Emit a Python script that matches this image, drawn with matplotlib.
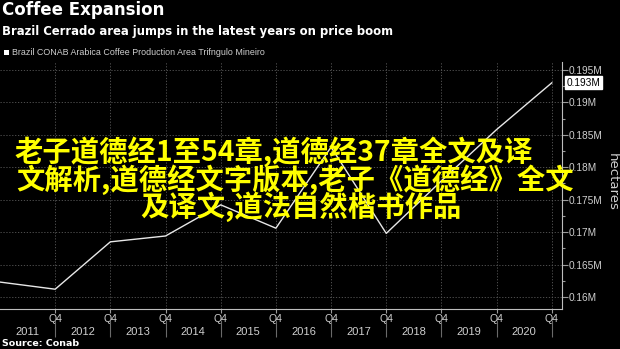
import matplotlib
matplotlib.use("Agg")
import matplotlib.pyplot as plt
import matplotlib.transforms as mtransforms
from matplotlib.ticker import FuncFormatter, MultipleLocator

# data: Q4 of each year, hectares
years = [2010, 2011, 2012, 2013, 2014, 2015, 2016, 2017, 2018, 2019, 2020]
area = [162300, 161200, 168500, 169400, 174200, 170600, 183100, 169800, 177900, 185800, 193000]
year_labels = ["2011", "2012", "2013", "2014", "2015", "2016", "2017", "2018", "2019", "2020"]
overlay_lines = [
    "老子道德经1至54章,道德经37章全文及译",
    "文解析,道德经文字版本,老子《道德经》全文",
    "及译文,道法自然楷书作品",
]

narrow = ["Liberation Sans", "DejaVu Sans"]
grey = "#cfcfcf"

fig = plt.figure(figsize=(6.2, 3.49), dpi=100, facecolor="black")
ax = fig.add_axes([0.0, 0.1146, 0.906, 0.7076], facecolor="black")

ax.plot(years, area, color="#e8e8e8", lw=1.0)

ax.set_xlim(2010, 2020.18)
ax.set_ylim(158150, 196200)

# y axis on the right
ax.yaxis.tick_right()
ax.yaxis.set_major_locator(MultipleLocator(5000))
ax.yaxis.set_minor_locator(MultipleLocator(2500))
ax.yaxis.set_major_formatter(FuncFormatter(lambda v, p: f"{v/1e6:g}M"))
ax.tick_params(axis="y", which="major", colors="#9a9a9a", labelcolor=grey,
               labelsize=7.3, length=4, width=0.8, pad=1)
ax.tick_params(axis="y", which="minor", colors="#9a9a9a", length=2, width=0.8)
for t in ax.get_yticklabels():
    t.set_family(narrow)

# x axis: Q4 ticks
ax.set_xticks(years[1:])
ax.set_xticklabels(["Q4"] * len(years[1:]), family=narrow)
ax.tick_params(axis="x", colors="#9a9a9a", labelcolor=grey, labelsize=7.5,
               length=3, width=0.8, pad=0.5)

ax.grid(True, color="#5a5a5a", ls=(0, (1.5, 2)), lw=0.6)

for s in ["top", "left"]:
    ax.spines[s].set_visible(False)
for s in ["bottom", "right"]:
    ax.spines[s].set_color("#bdbdbd")
    ax.spines[s].set_linewidth(0.8)

# year labels and separators below the Q4 row
trans = mtransforms.blended_transform_factory(ax.transData, ax.transAxes)
ax.vlines(years[1:], -0.045, -0.115, transform=trans, color="#6a6a6a", lw=0.8, clip_on=False)
for i, lab in enumerate(year_labels):
    ax.text(years[i] + 0.5, -0.093, lab, transform=trans, ha="center", va="center",
            color=grey, fontsize=8, family=narrow)

# last value badge
ty = mtransforms.blended_transform_factory(ax.transAxes, ax.transData)
ax.text(1.008, area[-1], f"{area[-1]/1e6:g}M", transform=ty, ha="left", va="center",
        fontsize=7.3, family=narrow, color="black",
        bbox=dict(boxstyle="square,pad=0.15", fc="white", ec="white"))

fig.text(0.987, 0.48, "hectares", rotation=270, ha="center", va="center",
         color=grey, fontsize=9.5)

# titles
fig.text(0.004, 0.998, "Coffee Expansion", ha="left", va="top", color="white",
         fontsize=12, fontweight="bold")
fig.text(0.004, 0.928, "Brazil Cerrado area jumps in the latest years on price boom",
         ha="left", va="top", color="white", fontsize=8.4, fontweight="bold")
fig.patches.append(plt.Rectangle((0.006, 0.842), 0.009, 0.016, transform=fig.transFigure,
                                 fc="white", ec="none"))
fig.text(0.019, 0.85, "Brazil CONAB Arabica Coffee Production Area Trifngulo Mineiro",
         ha="left", va="center", color=grey, fontsize=6.4, family=narrow)
fig.text(0.004, 0.017, "Source: Conab", ha="left", va="center", color="white",
         fontsize=6.8, fontweight="bold")

# overlay text
centers = [274, 295, 301]
for i, line in enumerate(overlay_lines):
    fig.text(centers[i] / 620, 1 - (152 + i * 27.5) / 349, line, ha="center", va="center",
             color="#ffff00", fontsize=20.4, fontweight="bold",
             family=["Noto Sans CJK SC", "DejaVu Sans"])

fig.savefig("out.png", dpi=100, facecolor="black")
